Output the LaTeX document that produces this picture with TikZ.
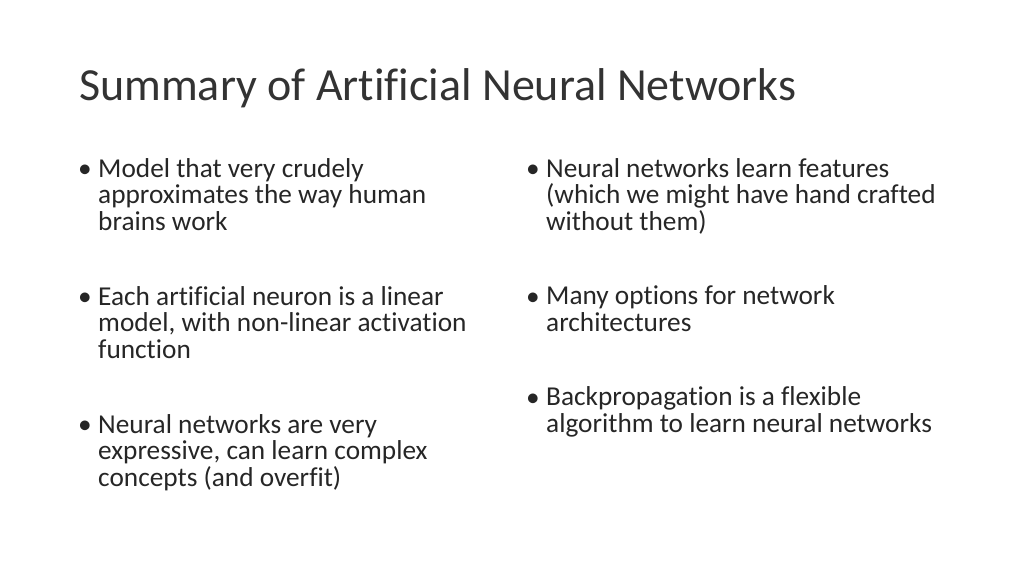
\documentclass[tikz,border=0pt]{standalone}
\usepackage{fontspec}
\setmainfont{Carlito}[Ligatures=NoCommon]
\begin{document}
\begin{tikzpicture}[x=1pt,y=-1pt,
  bodytext/.style={anchor=base west,align=left,inner sep=0pt,font=\fontsize{27.3}{26.5}\selectfont,text=black!85},
  bul/.style={anchor=base west,inner sep=0pt,font=\fontsize{27.3}{26.5}\selectfont,text=black!85}]
\useasboundingbox (0,0) rectangle (1024,576);
\node[anchor=base west,inner sep=0pt,font=\fontsize{46}{50}\selectfont,text=black!80] (title) at (79,100) {Summary of Artificial Neural Networks};
\node[bul] (b1) at (78,177) {•};
\node[bodytext] (t1) at (98,230) {Model that very crudely\\approximates the way human\\brains work};
\node[bul] (b2) at (78,305) {•};
\node[bodytext] (t2) at (98,358) {Each artificial neuron is a linear\\model, with non-linear activation\\function};
\node[bul] (b3) at (78,433) {•};
\node[bodytext] (t3) at (98,486) {Neural networks are very\\expressive, can learn complex\\concepts (and overfit)};
\node[bul] (b4) at (526,177) {•};
\node[bodytext] (t4) at (546,230) {Neural networks learn features\\(which we might have hand crafted\\without them)};
\node[bul] (b5) at (526,305) {•};
\node[bodytext] (t5) at (546,331) {Many options for network\\architectures};
\node[bul] (b6) at (526,406) {•};
\node[bodytext] (t6) at (546,432) {Backpropagation is a flexible\\algorithm to learn neural networks};
\end{tikzpicture}
\end{document}
